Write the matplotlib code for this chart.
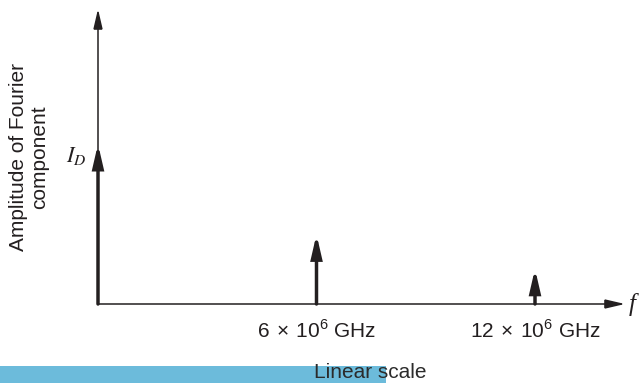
import matplotlib
matplotlib.use("Agg")
import matplotlib.pyplot as plt
from matplotlib.patches import Rectangle

# Spectrum: DC component plus two harmonics (frequency in units of 10^6 GHz)
freqs = [0, 6, 12]
amplitudes = [1.0, 0.435, 0.22]
tick_freqs = [6, 12]
tick_labels = [r"$6\,\times\,10^{6}$ GHz", r"$12\,\times\,10^{6}$ GHz"]

W, H = 641, 383
fig = plt.figure(figsize=(W / 100, H / 100), dpi=100)
ax = fig.add_axes([0, 0, 1, 1])
ax.set_axis_off()

# Pixel layout of the axes origin and scale
x0_px, y0_px = 98, 304          # origin (from top-left)
px_per_f = (535 - 98) / 12.0
px_per_a = (304 - 144) / 1.0
ax.set_xlim(-x0_px / px_per_f, (W - x0_px) / px_per_f)
ax.set_ylim(-(H - y0_px) / px_per_a, y0_px / px_per_a)

plt.rcParams["mathtext.fontset"] = "custom"
plt.rcParams["mathtext.rm"] = "Liberation Sans"
sans = "Liberation Sans"
serif = "Liberation Serif"
ink = "#231f20"

x_end = (625 - x0_px) / px_per_f
y_end = (y0_px - 9) / px_per_a

# Axes with arrowheads
thin = dict(arrowstyle="-|>,head_length=1.2,head_width=0.28", lw=1.1,
            color=ink, shrinkA=0, shrinkB=0, mutation_scale=10,
            joinstyle="miter")
ax.annotate("", xy=(x_end, 0), xytext=(0, 0), arrowprops=thin)
ax.annotate("", xy=(0, y_end), xytext=(0, 0), arrowprops=thin)

# Spectral lines
thick = dict(arrowstyle="-|>,head_length=1.3,head_width=0.3", lw=2.5,
             color=ink, shrinkA=0, shrinkB=0, mutation_scale=10,
             joinstyle="miter")
for f, a in zip(freqs, amplitudes):
    ax.annotate("", xy=(f, a), xytext=(f, 0), arrowprops=thick)

# Frequency tick labels
for f, lab in zip(tick_freqs, tick_labels):
    ax.text(f, -27 / px_per_a, lab, ha="center", va="center",
            fontsize=15, family=sans, color=ink)

# Axis labels
ax.text(x_end + 4 / px_per_f, 0, "f", ha="left", va="center",
        fontsize=18, family=serif, style="italic", color=ink)
ax.text(-12 / px_per_f, amplitudes[0] - 12 / px_per_a, r"$I_D$",
        ha="right", va="center", fontsize=16, color=ink,
        math_fontfamily="stix")
fig.text(29 / W, 1 - 157 / H, "Amplitude of Fourier\ncomponent",
         rotation=90, ha="center", va="center", fontsize=15,
         family=sans, color=ink, linespacing=1.1)

# Caption band
fig.patches.append(Rectangle((0, 0), 386 / W, 17 / H, transform=fig.transFigure,
                             facecolor="#6cbbdb", edgecolor="none", zorder=0))
fig.text(314 / W, 1 - 372 / H, "Linear scale", ha="left", va="center",
         fontsize=15, family=sans, color="#2b2b2b", zorder=2)

fig.savefig("out.png", dpi=100)
